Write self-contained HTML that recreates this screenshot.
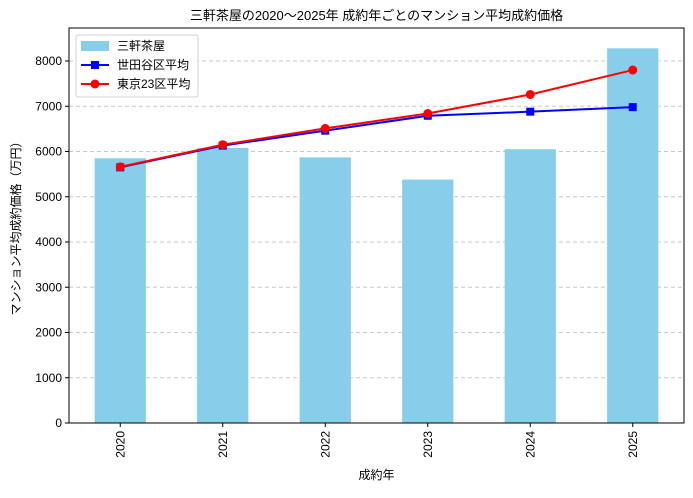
<!DOCTYPE html>
<html><head><meta charset="utf-8"><style>
body{margin:0;background:#fff;}
svg text{font-family:"Liberation Sans","Noto Sans CJK JP",sans-serif;fill:#000;}
</style></head><body>
<svg id="chart" width="693" height="493" xmlns="http://www.w3.org/2000/svg">
<g id="grid"></g><g id="bars"></g><g id="lines"></g><g id="axes"></g>
</svg>
<script>
const years=["2020","2021","2022","2023","2024","2025"];
const sangenjaya=[5850,6080,5870,5380,6050,8280];
const setagaya=[5650,6130,6460,6790,6880,6980];
const tokyo23=[5660,6150,6510,6840,7260,7800];
const yTicks=[0,1000,2000,3000,4000,5000,6000,7000,8000];
const NS="http://www.w3.org/2000/svg";
const L=69,R=684,T=28,B=423;
const band=(R-L)/years.length;
const x=i=>L+band*(i+0.5);
const y=v=>B-v*(362/8000);
function mk(tag,attrs,parent,txt){const e=document.createElementNS(NS,tag);for(const k in attrs)e.setAttribute(k,attrs[k]);if(txt!==undefined)e.textContent=txt;document.getElementById(parent)?document.getElementById(parent).appendChild(e):parent.appendChild(e);return e;}
const svg=document.getElementById('chart');
yTicks.forEach(t=>{
 if(t>0){const g=mk('line',{x1:L,x2:R,y1:y(t),y2:y(t),stroke:'#c8c8c8','stroke-dasharray':'4,3','stroke-width':1},'grid');
 
 }
 const tk=mk('line',{x1:L-4,x2:L,y1:y(t),y2:y(t),stroke:'#000'},'axes');
 
 
 const lb=mk('text',{x:L-7,y:y(t)+4,'text-anchor':'end','font-size':12},'axes',t);
 
 
});
years.forEach((yr,i)=>{
 const r=mk('rect',{x:x(i)-band*0.25,y:y(sangenjaya[i]),width:band*0.5,height:B-y(sangenjaya[i]),fill:'#87ceeb'},'bars');
 
 
 const tk=mk('line',{x1:x(i),x2:x(i),y1:B,y2:B+4,stroke:'#000'},'axes');
 
 
 const lb=mk('text',{x:0,y:0,'font-size':12,'text-anchor':'end',transform:`translate(${x(i)+4},${B+8}) rotate(-90)`},'axes',yr);
 
 
});
function series(vals,color,marker,name){
 const p=mk('polyline',{points:vals.map((v,i)=>x(i)+','+y(v)).join(' '),fill:'none',stroke:color,'stroke-width':2},'lines');
 
 
 vals.forEach((v,i)=>{
  let m;
  if(marker==='s')m=mk('rect',{x:x(i)-4,y:y(v)-4,width:8,height:8,fill:color},'lines');
  else m=mk('circle',{cx:x(i),cy:y(v),r:4.5,fill:color},'lines');
  
  
 });
}
series(setagaya,'#0000ff','s','setagaya');
series(tokyo23,'#ff0000','o','tokyo23');
const fr=mk('rect',{x:L,y:T,width:R-L,height:B-T,fill:'none',stroke:'#000','stroke-width':1},'axes');


const ti=mk('text',{x:(L+R)/2,y:20,'text-anchor':'middle','font-size':13},'axes','三軒茶屋の2020〜2025年 成約年ごとのマンション平均成約価格');


const xt=mk('text',{x:(L+R)/2,y:479,'text-anchor':'middle','font-size':12},'axes','成約年');


const yt=mk('text',{x:0,y:0,'text-anchor':'middle','font-size':12,transform:`translate(20,${(T+B)/2}) rotate(-90)`},'axes','マンション平均成約価格（万円）');


const lg=mk('g',{},'axes');


mk('rect',{x:76,y:35,width:122,height:62,rx:2,fill:'#fff','fill-opacity':0.85,stroke:'#d0d0d0'},lg);
mk('rect',{x:81,y:41,width:28,height:10,fill:'#87ceeb'},lg);
const e1=mk('text',{x:117,y:50,'font-size':12},lg,'三軒茶屋');


mk('line',{x1:81,x2:109,y1:65,y2:65,stroke:'#0000ff','stroke-width':2},lg);
mk('rect',{x:91,y:61,width:8,height:8,fill:'#0000ff'},lg);
const e2=mk('text',{x:117,y:69,'font-size':12},lg,'世田谷区平均');


mk('line',{x1:81,x2:109,y1:84,y2:84,stroke:'#ff0000','stroke-width':2},lg);
mk('circle',{cx:95,cy:84,r:4.5,fill:'#ff0000'},lg);
const e3=mk('text',{x:117,y:88,'font-size':12},lg,'東京23区平均');


</script>
</body></html>
